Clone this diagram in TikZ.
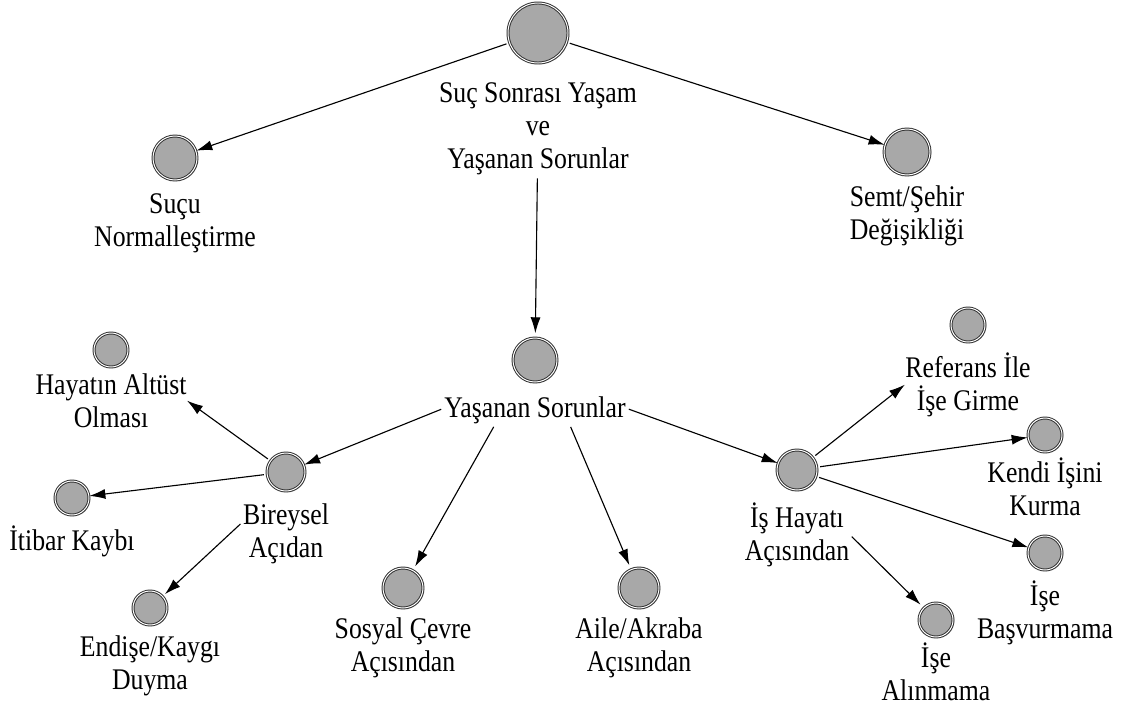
\documentclass[tikz,border=0pt]{standalone}
\usepackage{fontspec}
\setmainfont[FakeStretch=0.86]{Liberation Serif}
\usepackage{tikz}
\usetikzlibrary{arrows.meta}
\usetikzlibrary{positioning}
\usetikzlibrary{shadows}
\definecolor{bubblefill}{HTML}{A8A8A8}
\tikzset{
    bubble/.style={
           circle,
           minimum size=#1,
           inner sep=0pt,
           fill=bubblefill,
           draw=black!80, line width=0.7pt,
           double=white, double distance=0.7pt,
           drop shadow={shadow xshift=0.9pt, shadow yshift=-0.9pt, opacity=0.35},
           },
    bubble/.default=0.85cm,
    caption/.style={
           align=center,
           inner sep=0pt,
           font=\fontsize{21.3}{23.4}\selectfont,
           execute at begin node=\vphantom{İ},
           },
}

\begin{document}
\begin{tikzpicture}[x=0.025cm,y=-0.025cm,node distance=0.24cm,
    >={Latex[length=0.4cm,width=0.25cm]},line width=0.8pt]
    \useasboundingbox (0,0) rectangle (1123,711);
    % ust kisim
    \node[bubble=1.5cm] (yasam) at (538,33) {};
    \node[caption] (yasam_t) [below=0.47cm of yasam] {Suç Sonrası Yaşam\\ve\\Yaşanan Sorunlar};
    \node[bubble=1.1cm] (sucu) at (175,158) {};
    \node[caption] (sucu_t) [below=0.32cm of sucu] {Suçu\\Normalleştirme};
    \node[bubble=1.15cm] (semt) at (907,152) {};
    \node[caption] (semt_t) [below=of semt] {Semt/Şehir\\Değişikliği};
    \node[bubble=1.1cm] (sorun) at (535,360) {};
    \node[caption] (sorun_t) [below=of sorun] {Yaşanan Sorunlar};
    % bireysel
    \node[bubble=0.95cm] (bireysel) at (286,472) {};
    \node[caption] (bireysel_t) [below=0.29cm of bireysel] {Bireysel\\Açıdan};
    \node[bubble] (hayat) at (111,350) {};
    \node[caption] (hayat_t) [below=0.14cm of hayat] {Hayatın Altüst\\Olması};
    \node[bubble] (itibar) at (72,498) {};
    \node[caption] (itibar_t) [below=of itibar] {İtibar Kaybı};
    \node[bubble] (endise) at (150,608) {};
    \node[caption] (endise_t) [below=of endise] {Endişe/Kaygı\\Duyma};
    % sosyal, aile
    \node[bubble=1.0cm] (sosyal) at (403,588) {};
    \node[caption] (sosyal_t) [below=0.22cm of sosyal] {Sosyal Çevre\\Açısından};
    \node[bubble=1.0cm] (aile) at (639,588) {};
    \node[caption] (aile_t) [below=0.22cm of aile] {Aile/Akraba\\Açısından};
    % is hayati
    \node[bubble=1.0cm] (is) at (797,470) {};
    \node[caption] (is_t) [below=0.29cm of is] {İş Hayatı\\Açısından};
    \node[bubble] (referans) at (968,325) {};
    \node[caption] (referans_t) [below=of referans] {Referans İle\\İşe Girme};
    \node[bubble] (kendi) at (1045,435) {};
    \node[caption] (kendi_t) [below=0.12cm of kendi] {Kendi İşini\\Kurma};
    \node[bubble] (basvur) at (1045,553) {};
    \node[caption] (basvur_t) [below=of basvur] {İşe\\Başvurmama};
    \node[bubble] (alinma) at (936,620) {};
    \node[caption] (alinma_t) [below=0.12cm of alinma] {İşe\\Alınmama};

    \path[->,shorten <=2pt]
    (yasam) edge (sucu)
    (yasam) edge (semt)
    (yasam_t) edge[shorten >=3pt] (sorun)
    (sorun_t.west) edge (bireysel)
    (sorun_t.-158) edge[shorten >=3pt] (sosyal)
    (sorun_t.-25) edge[shorten >=3pt] (aile)
    (sorun_t.east) edge (is)
    (bireysel) edge (hayat_t.east)
    (bireysel) edge (itibar)
    (bireysel_t.165) edge[shorten >=2pt] (endise)
    (is) edge (referans_t.west)
    (is) edge (kendi)
    (is) edge (basvur)
    (is_t.east) edge[shorten >=3pt] (alinma);
\end{tikzpicture}
\end{document}
